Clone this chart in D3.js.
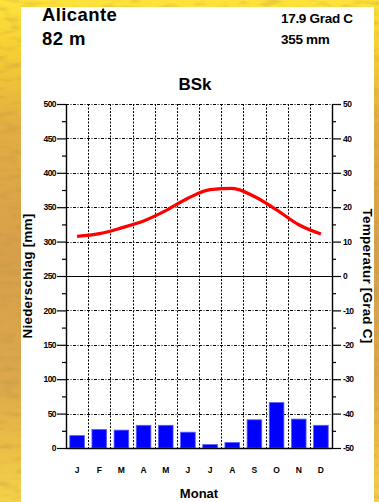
<!DOCTYPE html>
<html>
<head>
<meta charset="utf-8">
<script src="https://cdn.jsdelivr.net/npm/d3@7"></script>
<style>
  html, body { margin: 0; padding: 0; background: #fff; }
  svg { display: block; }
  text { font-family: "Liberation Sans", Arial, Helvetica, sans-serif; fill: #000; }
</style>
</head>
<body>
<svg id="chart" width="379" height="502"></svg>
<script>
// Climate data for Alicante (Köppen BSk)
const months = ["J", "F", "M", "A", "M", "J", "J", "A", "S", "O", "N", "D"];
const monthKeys = months.map((m, i) => i);
const precipitation = [18, 27, 26, 33, 33, 23, 5, 8, 41, 66, 42, 33];          // mm
const temperature = [11.5, 12.3, 14.0, 16.0, 19.0, 22.6, 25.1, 25.5, 23.1, 19.2, 14.9, 12.2]; // °C
const precipTicks = [0, 50, 100, 150, 200, 250, 300, 350, 400, 450, 500];
const precipMinorTicks = [25, 75, 125, 175, 225, 275, 325, 375, 425, 475];
const tempTicks = [-50, -40, -30, -20, -10, 0, 10, 20, 30, 40, 50];
const tempMinorTicks = [-45, -35, -25, -15, -5, 5, 15, 25, 35, 45];

const station = "Alicante";
const elevation = "82 m";
const meanTemp = "17.9 Grad C";
const annualPrecip = "355 mm";
const climateClass = "BSk";

const svg = d3.select("#chart");
const W = 379, H = 502;

// ---- backdrop: sandy yellow surround behind a white sheet ----
const defs = svg.append("defs");
const grad = defs.append("linearGradient").attr("id", "sand")
  .attr("x1", 0).attr("y1", 0).attr("x2", 0).attr("y2", 1);
[[0, "#ffe33c"], [0.1, "#f6cf33"], [0.25, "#e3ae42"], [0.5, "#d79f4b"],
 [0.75, "#dba74c"], [0.9, "#ecc046"], [1, "#f5d24a"]].forEach(([o, c]) =>
  grad.append("stop").attr("offset", o).attr("stop-color", c));

const tex = defs.append("filter").attr("id", "grain")
  .attr("x", 0).attr("y", 0).attr("width", 1).attr("height", 1);
tex.append("feTurbulence").attr("type", "fractalNoise")
  .attr("baseFrequency", "0.05 0.16").attr("numOctaves", 2).attr("seed", 7);
tex.append("feColorMatrix").attr("type", "matrix")
  .attr("values", "0 0 0 0 0.45  0 0 0 0 0.28  0 0 0 0 0.05  0 0 0 1.6 -0.75");

svg.append("rect").attr("width", W).attr("height", H).attr("fill", "url(#sand)");
svg.append("rect").attr("width", W).attr("height", H)
  .attr("filter", "url(#grain)").attr("opacity", 0.55);

svg.append("rect").attr("x", 21).attr("y", 7).attr("width", 353).attr("height", H - 7)
  .attr("fill", "#fff");

// ---- header texts ----
svg.append("text").attr("x", 42).attr("y", 21).attr("font-size", 18.5).attr("font-weight", "bold")
  .attr("letter-spacing", 0.4).text(station);
svg.append("text").attr("x", 42).attr("y", 45).attr("font-size", 18.5).attr("font-weight", "bold")
  .attr("letter-spacing", 0.4).text(elevation);
svg.append("text").attr("x", 281).attr("y", 23).attr("font-size", 13.5).attr("font-weight", "bold")
  .attr("letter-spacing", -0.3).text(meanTemp);
svg.append("text").attr("x", 281).attr("y", 44).attr("font-size", 13.5).attr("font-weight", "bold")
  .attr("letter-spacing", -0.3).text(annualPrecip);

// ---- plot area ----
const plotLeft = 66, plotRight = 332, plotTop = 104, plotBottom = 448;

const x = d3.scaleBand().domain(monthKeys).range([plotLeft, plotRight]).paddingInner(0).paddingOuter(0);
const yP = d3.scaleLinear().domain([0, 500]).range([plotBottom, plotTop]);
const yT = d3.scaleLinear().domain([-50, 50]).range([plotBottom, plotTop]);

svg.append("text").attr("x", (plotLeft + plotRight) / 2 - 4).attr("y", 89.5)
  .attr("text-anchor", "middle").attr("font-size", 17).attr("font-weight", "bold")
  .text(climateClass);

const plot = svg.append("g");

// horizontal grid lines
plot.append("g").selectAll("line")
  .data(precipTicks.filter(v => v !== 0))
  .join("line")
  .attr("x1", plotLeft).attr("x2", plotRight)
  .attr("y1", d => Math.round(yP(d)) + 0.5).attr("y2", d => Math.round(yP(d)) + 0.5)
  .attr("stroke", "#000")
  .attr("stroke-width", d => d === 250 ? 1.2 : 1)
  .attr("stroke-dasharray", d => d === 250 ? null : "3,1.5,1,1.5");

// vertical month separators
plot.append("g").selectAll("line")
  .data(monthKeys.slice(1))
  .join("line")
  .attr("x1", d => Math.round(x(d)) + 0.5).attr("x2", d => Math.round(x(d)) + 0.5)
  .attr("y1", plotTop).attr("y2", plotBottom)
  .attr("stroke", "#000").attr("stroke-width", 1)
  .attr("stroke-dasharray", "2,1.5");

// precipitation bars
const barW = x.bandwidth() * 0.66;
plot.append("g").selectAll("rect")
  .data(precipitation)
  .join("rect")
  .attr("x", (d, i) => x(i) + (x.bandwidth() - barW) / 2)
  .attr("y", d => yP(d))
  .attr("width", barW)
  .attr("height", d => yP(0) - yP(d))
  .attr("fill", "#0000ff")
  .attr("stroke", "#5c5cff").attr("stroke-width", 0.8);

// temperature curve
const line = d3.line()
  .x((d, i) => x(i) + x.bandwidth() / 2)
  .y(d => yT(d))
  .curve(d3.curveMonotoneX);
plot.append("path")
  .datum(temperature)
  .attr("d", line)
  .attr("fill", "none")
  .attr("stroke", "#ff0000")
  .attr("stroke-width", 3.2)
  .attr("stroke-linecap", "butt");

// baseline
plot.append("line").attr("x1", plotLeft).attr("x2", plotRight)
  .attr("y1", plotBottom + 0.5).attr("y2", plotBottom + 0.5)
  .attr("stroke", "#000").attr("stroke-width", 1.4);

// ---- axes ----
function styleAxis(g, fs) {
  g.select(".domain").attr("stroke", "#000").attr("stroke-width", 1.4);
  g.selectAll(".tick line").attr("stroke", "#000").attr("stroke-width", 1.2);
  g.selectAll(".tick text")
    .attr("font-family", "'Liberation Sans', Arial, sans-serif")
    .attr("font-size", fs).attr("font-weight", "bold").attr("letter-spacing", -0.6)
    .attr("fill", "#000");
}

const leftAxis = svg.append("g").attr("transform", `translate(${plotLeft},0)`)
  .call(d3.axisLeft(yP).tickValues(precipTicks).tickSize(9).tickSizeOuter(0).tickPadding(1)
    .tickFormat(d3.format("d")));
styleAxis(leftAxis, 8.5);
svg.append("g").attr("transform", `translate(${plotLeft},0)`)
  .call(d3.axisLeft(yP).tickValues(precipMinorTicks).tickSize(4).tickSizeOuter(0).tickFormat(""))
  .call(g => { g.select(".domain").remove(); g.selectAll(".tick line").attr("stroke", "#000").attr("stroke-width", 1.2); });

const rightAxis = svg.append("g").attr("transform", `translate(${plotRight},0)`)
  .call(d3.axisRight(yT).tickValues(tempTicks).tickSize(9).tickSizeOuter(0).tickPadding(2)
    .tickFormat(d3.format("d")));
styleAxis(rightAxis, 8.5);
rightAxis.selectAll(".tick text").text(d => d < 0 ? "-" + Math.abs(d) : d);
svg.append("g").attr("transform", `translate(${plotRight},0)`)
  .call(d3.axisRight(yT).tickValues(tempMinorTicks).tickSize(4).tickSizeOuter(0).tickFormat(""))
  .call(g => { g.select(".domain").remove(); g.selectAll(".tick line").attr("stroke", "#000").attr("stroke-width", 1.2); });

// month labels
const monthAxis = svg.append("g").attr("transform", `translate(0,${plotBottom})`)
  .call(d3.axisBottom(x).tickSize(0).tickPadding(19).tickFormat(i => months[i]));
monthAxis.select(".domain").remove();
monthAxis.selectAll(".tick text")
  .attr("font-family", "'Liberation Sans', Arial, sans-serif")
  .attr("font-size", 8.5).attr("font-weight", "bold").attr("fill", "#000");

// axis titles
svg.append("text")
  .attr("transform", `translate(32,${(plotTop + plotBottom) / 2}) rotate(-90)`)
  .attr("text-anchor", "middle").attr("font-size", 13.5).attr("font-weight", "bold")
  .attr("letter-spacing", 0.2)
  .text("Niederschlag [mm]");
svg.append("text")
  .attr("transform", `translate(363,${(plotTop + plotBottom) / 2}) rotate(90)`)
  .attr("text-anchor", "middle").attr("font-size", 13.5).attr("font-weight", "bold")
  .attr("letter-spacing", 0.2)
  .text("Temperatur [Grad C]");
svg.append("text")
  .attr("x", (plotLeft + plotRight) / 2).attr("y", 498)
  .attr("text-anchor", "middle").attr("font-size", 13).attr("font-weight", "bold")
  .text("Monat");
</script>
</body>
</html>
